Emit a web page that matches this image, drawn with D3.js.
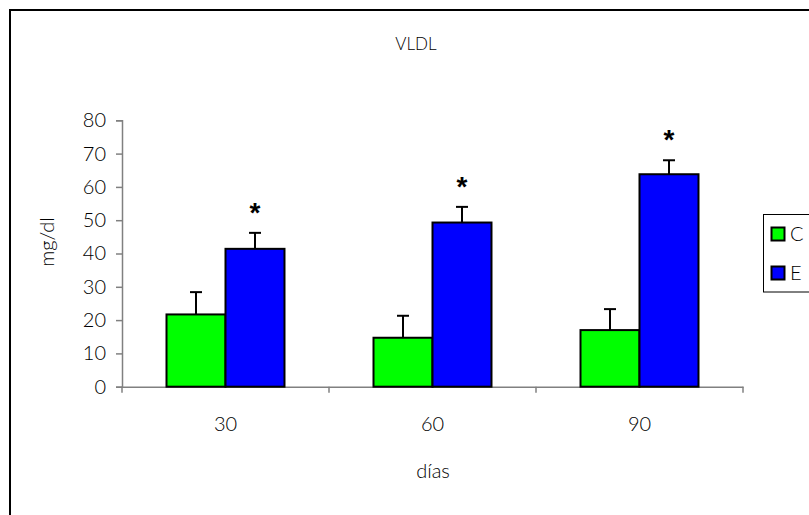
<!DOCTYPE html>
<html><head><meta charset="utf-8">
<script src="https://cdn.jsdelivr.net/npm/d3@7"></script>
<style>
body{margin:0;background:#fff;}
text{font-family:"Lato","Open Sans",sans-serif;font-weight:300;fill:#000;}
</style></head>
<body><svg id="c" width="809" height="515"></svg>
<script>
const categories = ["30", "60", "90"];
const seriesNames = ["C", "E"];
const valuesC = [21.7, 14.7, 17.0];
const valuesE = [41.4, 49.3, 63.8];
const errorsC = [6.7, 6.6, 6.3];
const errorsE = [4.8, 4.7, 4.2];
const significantE = [true, true, true];
const yTicks = [0, 10, 20, 30, 40, 50, 60, 70, 80];
const colors = {C: "#00ff00", E: "#0000ff"};

const svg = d3.select("#c");
svg.append("rect").attr("x", 10).attr("y", 10).attr("width", 820).attr("height", 520)
  .attr("fill", "#fff").attr("stroke", "#000").attr("stroke-width", 2);

const x0 = d3.scaleBand().domain(categories).range([122, 743]).padding(0);
const x1 = d3.scaleBand().domain(seriesNames)
  .range([x0.bandwidth()*0.215, x0.bandwidth()*0.785]).padding(0);
const y = d3.scaleLinear().domain([0, 80]).range([386.7, 120.3]);

const data = categories.map((c, i) => ({
  cat: c,
  bars: [
    {s: "C", v: valuesC[i], e: errorsC[i], sig: false},
    {s: "E", v: valuesE[i], e: errorsE[i], sig: significantE[i]}
  ]
}));

// Y axis
const yAxis = svg.append("g").attr("transform", "translate(122,0)")
  .call(d3.axisLeft(y).tickValues(yTicks).tickSize(6).tickPadding(10).tickFormat(d3.format("d")));
yAxis.select(".domain").attr("stroke", "#808080").attr("stroke-width", 1.5);
yAxis.selectAll(".tick line").attr("stroke", "#808080").attr("stroke-width", 1.5);
yAxis.selectAll(".tick text").attr("font-size", 20).attr("font-family", "Lato, sans-serif").attr("font-weight", 300).attr("fill", "#000");

// X axis
const xAxis = svg.append("g").attr("transform", `translate(0,${y(0)})`)
  .call(d3.axisBottom(x0).tickSize(0).tickPadding(30));
xAxis.select(".domain").attr("stroke", "#808080").attr("stroke-width", 1.5);
xAxis.selectAll(".tick text").attr("font-size", 20).attr("font-family", "Lato, sans-serif").attr("font-weight", 300).attr("fill", "#000");
// category separator ticks
const bounds = [x0.range()[0]].concat(categories.map(c => x0(c) + x0.bandwidth()));
svg.append("g").selectAll("line").data(bounds).join("line")
  .attr("x1", d => d).attr("x2", d => d).attr("y1", y(0)).attr("y2", y(0) + 6)
  .attr("stroke", "#808080").attr("stroke-width", 1.5);

// Bars
const groups = svg.append("g").selectAll("g").data(data).join("g")
  .attr("transform", d => `translate(${x0(d.cat)},0)`);
groups.selectAll("line.err").data(d => d.bars).join("line").attr("class", "err")
  .attr("x1", d => x1(d.s) + x1.bandwidth()/2).attr("x2", d => x1(d.s) + x1.bandwidth()/2)
  .attr("y1", d => y(d.v)).attr("y2", d => y(d.v + d.e))
  .attr("stroke", "#000").attr("stroke-width", 2);
groups.selectAll("line.cap").data(d => d.bars).join("line").attr("class", "cap")
  .attr("x1", d => x1(d.s) + x1.bandwidth()/2 - 6).attr("x2", d => x1(d.s) + x1.bandwidth()/2 + 6)
  .attr("y1", d => y(d.v + d.e)).attr("y2", d => y(d.v + d.e))
  .attr("stroke", "#000").attr("stroke-width", 2);
groups.selectAll("rect").data(d => d.bars).join("rect")
  .attr("x", d => x1(d.s)).attr("width", x1.bandwidth())
  .attr("y", d => y(d.v)).attr("height", d => y(0) - y(d.v))
  .attr("fill", d => colors[d.s]).attr("stroke", "#000").attr("stroke-width", 2);
groups.selectAll("text.sig").data(d => d.bars.filter(b => b.sig)).join("text").attr("class", "sig")
  .attr("x", d => x1(d.s) + x1.bandwidth()/2).attr("y", d => y(d.v + d.e) - 11)
  .attr("text-anchor", "middle").attr("font-size", 28)
  .style("font-family", "Liberation Sans, Arial, sans-serif").style("font-weight", "bold")
  .text("*");

// Titles
svg.append("text").attr("x", 416).attr("y", 50).attr("text-anchor", "middle")
  .attr("font-size", 17).text("VLDL");
svg.append("text").attr("x", 433).attr("y", 478).attr("text-anchor", "middle")
  .attr("font-size", 20).text("días");
svg.append("text").attr("transform", "translate(54,242) rotate(-90)").attr("text-anchor", "middle")
  .attr("font-size", 20).text("mg/dl");

// Legend
const leg = svg.append("g");
leg.append("rect").attr("x", 763.5).attr("y", 214.5).attr("width", 60).attr("height", 77.5)
  .attr("fill", "#fff").attr("stroke", "#000").attr("stroke-width", 1);
seriesNames.forEach((s, i) => {
  leg.append("rect").attr("x", 771.5).attr("y", 227.5 + i*39).attr("width", 13).attr("height", 13)
    .attr("fill", colors[s]).attr("stroke", "#000").attr("stroke-width", 2);
  leg.append("text").attr("x", 790).attr("y", 241 + i*39).attr("font-size", 20).text(s);
});
</script></body></html>
